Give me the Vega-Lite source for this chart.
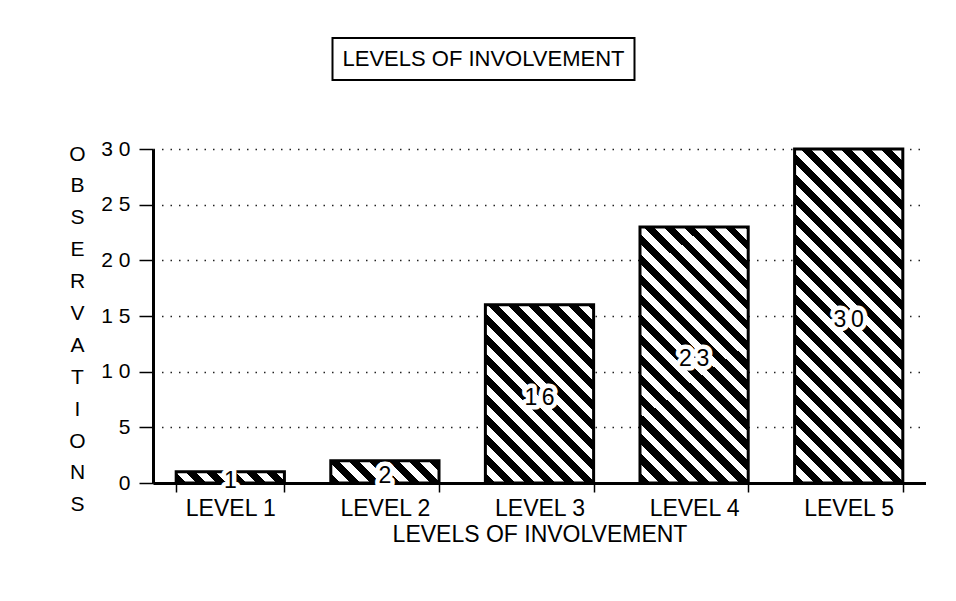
{
  "$schema": "https://vega.github.io/schema/vega-lite/v6.json",
  "padding": {"left": 68, "top": 37, "right": 0, "bottom": 0},
  "autosize": {"type": "pad"},
  "background": "white",
  "center": true,
  "spacing": 57,
  "config": {
    "font": "Liberation Sans",
    "view": {"stroke": null},
    "axis": {
      "labelFont": "Liberation Sans",
      "titleFont": "Liberation Sans",
      "labelColor": "black",
      "titleColor": "black",
      "domainColor": "black",
      "tickColor": "black",
      "titleFontWeight": "normal"
    }
  },
  "datasets": {
    "obs": [
      {"level": "LEVEL 1", "value": 1},
      {"level": "LEVEL 2", "value": 2},
      {"level": "LEVEL 3", "value": 16},
      {"level": "LEVEL 4", "value": 23},
      {"level": "LEVEL 5", "value": 30}
    ]
  },
  "vconcat": [
    {
      "hconcat": [
        {
          "width": 302,
          "height": 42,
          "view": {"stroke": "black", "strokeWidth": 2},
          "data": {"values": [{"t": "LEVELS OF INVOLVEMENT"}]},
          "mark": {"type": "text", "fontSize": 22, "font": "Liberation Sans", "color": "black", "baseline": "middle", "align": "center"},
          "encoding": {"text": {"field": "t"}}
        },
        {
          "width": 111,
          "height": 42,
          "view": {"stroke": null},
          "data": {"values": [{"t": ""}]},
          "mark": {"type": "text"},
          "encoding": {"text": {"field": "t"}}
        }
      ],
      "spacing": 0
    },
    {
      "width": 773,
      "height": 334,
      "data": {"name": "obs"},
      "resolve": {"scale": {"y": "independent"}},
      "layer": [
        {
          "mark": {"type": "bar", "stroke": "black", "strokeWidth": 3},
          "encoding": {
            "x": {
              "field": "level", "type": "nominal", "sort": null,
              "scale": {"paddingInner": 0.3, "paddingOuter": 0.15},
              "axis": {
                "title": "LEVELS OF INVOLVEMENT",
                "titleFontSize": 23,
                "titlePadding": 3,
                "labelFontSize": 23,
                "labelAngle": 0,
                "labelPadding": 5,
                "tickBand": "extent",
                "tickSize": 9,
                "tickWidth": 1.5,
                "domainWidth": 3,
                "grid": false
              }
            },
            "y": {
              "field": "value", "type": "quantitative",
              "scale": {"domain": [0, 30]},
              "axis": {
                "values": [0, 5, 10, 15, 20, 25, 30],
                "labelExpr": "join(split(datum.label, ''), ' ')",
                "labelFontSize": 21,
                "labelPadding": 9,
                "tickSize": 14,
                "tickWidth": 1.5,
                "domainWidth": 3,
                "grid": true,
                "gridDash": [1.5, 7],
                "gridColor": "#222",
                "gridWidth": 1.4,
                "title": ["O", "B", "S", "E", "R", "V", "A", "T", "I", "O", "N", "S"],
                "titleFontSize": 21,
                "titleAngle": 0,
                "titleAlign": "center",
                "titleBaseline": "alphabetic",
                "titleLineHeight": 31.9,
                "titleX": -76,
                "titleY": 11
              }
            },
            "fill": {
              "condition": [
                {"test": "datum.level === 'LEVEL 1'", "value": {"gradient": "linear", "x1": 0, "y1": 1, "x2": 1.0913, "y2": 0.8877, "stops": [
                  {"offset": 0, "color": "#000"}, {"offset": 0.0838, "color": "#000"}, {"offset": 0.0838, "color": "#fff"}, {"offset": 0.1676, "color": "#fff"},
                  {"offset": 0.1676, "color": "#000"}, {"offset": 0.2514, "color": "#000"}, {"offset": 0.2514, "color": "#fff"}, {"offset": 0.3352, "color": "#fff"},
                  {"offset": 0.3352, "color": "#000"}, {"offset": 0.419, "color": "#000"}, {"offset": 0.419, "color": "#fff"}, {"offset": 0.5028, "color": "#fff"},
                  {"offset": 0.5028, "color": "#000"}, {"offset": 0.5866, "color": "#000"}, {"offset": 0.5866, "color": "#fff"}, {"offset": 0.6704, "color": "#fff"},
                  {"offset": 0.6704, "color": "#000"}, {"offset": 0.7542, "color": "#000"}, {"offset": 0.7542, "color": "#fff"}, {"offset": 0.838, "color": "#fff"},
                  {"offset": 0.838, "color": "#000"}, {"offset": 0.9218, "color": "#000"}, {"offset": 0.9218, "color": "#fff"}, {"offset": 1, "color": "#fff"}
                ]}},
                {"test": "datum.level === 'LEVEL 2'", "value": {"gradient": "linear", "x1": 0, "y1": 1, "x2": 1.1568, "y2": 0.7619, "stops": [
                  {"offset": 0, "color": "#000"}, {"offset": 0.0766, "color": "#000"}, {"offset": 0.0766, "color": "#fff"}, {"offset": 0.1533, "color": "#fff"},
                  {"offset": 0.1533, "color": "#000"}, {"offset": 0.2299, "color": "#000"}, {"offset": 0.2299, "color": "#fff"}, {"offset": 0.3066, "color": "#fff"},
                  {"offset": 0.3066, "color": "#000"}, {"offset": 0.3832, "color": "#000"}, {"offset": 0.3832, "color": "#fff"}, {"offset": 0.4599, "color": "#fff"},
                  {"offset": 0.4599, "color": "#000"}, {"offset": 0.5365, "color": "#000"}, {"offset": 0.5365, "color": "#fff"}, {"offset": 0.6132, "color": "#fff"},
                  {"offset": 0.6132, "color": "#000"}, {"offset": 0.6898, "color": "#000"}, {"offset": 0.6898, "color": "#fff"}, {"offset": 0.7665, "color": "#fff"},
                  {"offset": 0.7665, "color": "#000"}, {"offset": 0.8431, "color": "#000"}, {"offset": 0.8431, "color": "#fff"}, {"offset": 0.9197, "color": "#fff"},
                  {"offset": 0.9197, "color": "#000"}, {"offset": 0.9964, "color": "#000"}, {"offset": 0.9964, "color": "#fff"}, {"offset": 1, "color": "#fff"}
                ]}},
                {"test": "datum.level === 'LEVEL 3'", "value": {"gradient": "linear", "x1": 0, "y1": 1, "x2": 0.7132, "y2": -0.1742, "stops": [
                  {"offset": 0, "color": "#000"}, {"offset": 0.0349, "color": "#000"}, {"offset": 0.0349, "color": "#fff"}, {"offset": 0.0699, "color": "#fff"},
                  {"offset": 0.0699, "color": "#000"}, {"offset": 0.1048, "color": "#000"}, {"offset": 0.1048, "color": "#fff"}, {"offset": 0.1397, "color": "#fff"},
                  {"offset": 0.1397, "color": "#000"}, {"offset": 0.1746, "color": "#000"}, {"offset": 0.1746, "color": "#fff"}, {"offset": 0.2096, "color": "#fff"},
                  {"offset": 0.2096, "color": "#000"}, {"offset": 0.2445, "color": "#000"}, {"offset": 0.2445, "color": "#fff"}, {"offset": 0.2794, "color": "#fff"},
                  {"offset": 0.2794, "color": "#000"}, {"offset": 0.3143, "color": "#000"}, {"offset": 0.3143, "color": "#fff"}, {"offset": 0.3493, "color": "#fff"},
                  {"offset": 0.3493, "color": "#000"}, {"offset": 0.3842, "color": "#000"}, {"offset": 0.3842, "color": "#fff"}, {"offset": 0.4191, "color": "#fff"},
                  {"offset": 0.4191, "color": "#000"}, {"offset": 0.454, "color": "#000"}, {"offset": 0.454, "color": "#fff"}, {"offset": 0.489, "color": "#fff"},
                  {"offset": 0.489, "color": "#000"}, {"offset": 0.5239, "color": "#000"}, {"offset": 0.5239, "color": "#fff"}, {"offset": 0.5588, "color": "#fff"},
                  {"offset": 0.5588, "color": "#000"}, {"offset": 0.5937, "color": "#000"}, {"offset": 0.5937, "color": "#fff"}, {"offset": 0.6287, "color": "#fff"},
                  {"offset": 0.6287, "color": "#000"}, {"offset": 0.6636, "color": "#000"}, {"offset": 0.6636, "color": "#fff"}, {"offset": 0.6985, "color": "#fff"},
                  {"offset": 0.6985, "color": "#000"}, {"offset": 0.7334, "color": "#000"}, {"offset": 0.7334, "color": "#fff"}, {"offset": 0.7684, "color": "#fff"},
                  {"offset": 0.7684, "color": "#000"}, {"offset": 0.8033, "color": "#000"}, {"offset": 0.8033, "color": "#fff"}, {"offset": 0.8382, "color": "#fff"},
                  {"offset": 0.8382, "color": "#000"}, {"offset": 0.8731, "color": "#000"}, {"offset": 0.8731, "color": "#fff"}, {"offset": 0.9081, "color": "#fff"},
                  {"offset": 0.9081, "color": "#000"}, {"offset": 0.943, "color": "#000"}, {"offset": 0.943, "color": "#fff"}, {"offset": 0.9779, "color": "#fff"},
                  {"offset": 0.9779, "color": "#000"}, {"offset": 1, "color": "#000"}
                ]}},
                {"test": "datum.level === 'LEVEL 4'", "value": {"gradient": "linear", "x1": 0, "y1": 1, "x2": 0.51, "y2": -0.207, "stops": [
                  {"offset": 0, "color": "#000"}, {"offset": 0.0275, "color": "#000"}, {"offset": 0.0275, "color": "#fff"}, {"offset": 0.0549, "color": "#fff"},
                  {"offset": 0.0549, "color": "#000"}, {"offset": 0.0824, "color": "#000"}, {"offset": 0.0824, "color": "#fff"}, {"offset": 0.1098, "color": "#fff"},
                  {"offset": 0.1098, "color": "#000"}, {"offset": 0.1373, "color": "#000"}, {"offset": 0.1373, "color": "#fff"}, {"offset": 0.1647, "color": "#fff"},
                  {"offset": 0.1647, "color": "#000"}, {"offset": 0.1922, "color": "#000"}, {"offset": 0.1922, "color": "#fff"}, {"offset": 0.2196, "color": "#fff"},
                  {"offset": 0.2196, "color": "#000"}, {"offset": 0.2471, "color": "#000"}, {"offset": 0.2471, "color": "#fff"}, {"offset": 0.2745, "color": "#fff"},
                  {"offset": 0.2745, "color": "#000"}, {"offset": 0.302, "color": "#000"}, {"offset": 0.302, "color": "#fff"}, {"offset": 0.3294, "color": "#fff"},
                  {"offset": 0.3294, "color": "#000"}, {"offset": 0.3569, "color": "#000"}, {"offset": 0.3569, "color": "#fff"}, {"offset": 0.3843, "color": "#fff"},
                  {"offset": 0.3843, "color": "#000"}, {"offset": 0.4118, "color": "#000"}, {"offset": 0.4118, "color": "#fff"}, {"offset": 0.4392, "color": "#fff"},
                  {"offset": 0.4392, "color": "#000"}, {"offset": 0.4667, "color": "#000"}, {"offset": 0.4667, "color": "#fff"}, {"offset": 0.4941, "color": "#fff"},
                  {"offset": 0.4941, "color": "#000"}, {"offset": 0.5216, "color": "#000"}, {"offset": 0.5216, "color": "#fff"}, {"offset": 0.549, "color": "#fff"},
                  {"offset": 0.549, "color": "#000"}, {"offset": 0.5765, "color": "#000"}, {"offset": 0.5765, "color": "#fff"}, {"offset": 0.6039, "color": "#fff"},
                  {"offset": 0.6039, "color": "#000"}, {"offset": 0.6314, "color": "#000"}, {"offset": 0.6314, "color": "#fff"}, {"offset": 0.6588, "color": "#fff"},
                  {"offset": 0.6588, "color": "#000"}, {"offset": 0.6863, "color": "#000"}, {"offset": 0.6863, "color": "#fff"}, {"offset": 0.7138, "color": "#fff"},
                  {"offset": 0.7138, "color": "#000"}, {"offset": 0.7412, "color": "#000"}, {"offset": 0.7412, "color": "#fff"}, {"offset": 0.7687, "color": "#fff"},
                  {"offset": 0.7687, "color": "#000"}, {"offset": 0.7961, "color": "#000"}, {"offset": 0.7961, "color": "#fff"}, {"offset": 0.8236, "color": "#fff"},
                  {"offset": 0.8236, "color": "#000"}, {"offset": 0.851, "color": "#000"}, {"offset": 0.851, "color": "#fff"}, {"offset": 0.8785, "color": "#fff"},
                  {"offset": 0.8785, "color": "#000"}, {"offset": 0.9059, "color": "#000"}, {"offset": 0.9059, "color": "#fff"}, {"offset": 0.9334, "color": "#fff"},
                  {"offset": 0.9334, "color": "#000"}, {"offset": 0.9608, "color": "#000"}, {"offset": 0.9608, "color": "#fff"}, {"offset": 0.9883, "color": "#fff"},
                  {"offset": 0.9883, "color": "#000"}, {"offset": 1, "color": "#000"}
                ]}}
              ],
              "value": {"gradient": "linear", "x1": 0, "y1": 1, "x2": 0.3882, "y2": -0.1982, "stops": [
                {"offset": 0, "color": "#000"}, {"offset": 0.0226, "color": "#000"}, {"offset": 0.0226, "color": "#fff"}, {"offset": 0.0452, "color": "#fff"},
                {"offset": 0.0452, "color": "#000"}, {"offset": 0.0678, "color": "#000"}, {"offset": 0.0678, "color": "#fff"}, {"offset": 0.0905, "color": "#fff"},
                {"offset": 0.0905, "color": "#000"}, {"offset": 0.1131, "color": "#000"}, {"offset": 0.1131, "color": "#fff"}, {"offset": 0.1357, "color": "#fff"},
                {"offset": 0.1357, "color": "#000"}, {"offset": 0.1583, "color": "#000"}, {"offset": 0.1583, "color": "#fff"}, {"offset": 0.1809, "color": "#fff"},
                {"offset": 0.1809, "color": "#000"}, {"offset": 0.2035, "color": "#000"}, {"offset": 0.2035, "color": "#fff"}, {"offset": 0.2261, "color": "#fff"},
                {"offset": 0.2261, "color": "#000"}, {"offset": 0.2488, "color": "#000"}, {"offset": 0.2488, "color": "#fff"}, {"offset": 0.2714, "color": "#fff"},
                {"offset": 0.2714, "color": "#000"}, {"offset": 0.294, "color": "#000"}, {"offset": 0.294, "color": "#fff"}, {"offset": 0.3166, "color": "#fff"},
                {"offset": 0.3166, "color": "#000"}, {"offset": 0.3392, "color": "#000"}, {"offset": 0.3392, "color": "#fff"}, {"offset": 0.3618, "color": "#fff"},
                {"offset": 0.3618, "color": "#000"}, {"offset": 0.3844, "color": "#000"}, {"offset": 0.3844, "color": "#fff"}, {"offset": 0.4071, "color": "#fff"},
                {"offset": 0.4071, "color": "#000"}, {"offset": 0.4297, "color": "#000"}, {"offset": 0.4297, "color": "#fff"}, {"offset": 0.4523, "color": "#fff"},
                {"offset": 0.4523, "color": "#000"}, {"offset": 0.4749, "color": "#000"}, {"offset": 0.4749, "color": "#fff"}, {"offset": 0.4975, "color": "#fff"},
                {"offset": 0.4975, "color": "#000"}, {"offset": 0.5201, "color": "#000"}, {"offset": 0.5201, "color": "#fff"}, {"offset": 0.5427, "color": "#fff"},
                {"offset": 0.5427, "color": "#000"}, {"offset": 0.5654, "color": "#000"}, {"offset": 0.5654, "color": "#fff"}, {"offset": 0.588, "color": "#fff"},
                {"offset": 0.588, "color": "#000"}, {"offset": 0.6106, "color": "#000"}, {"offset": 0.6106, "color": "#fff"}, {"offset": 0.6332, "color": "#fff"},
                {"offset": 0.6332, "color": "#000"}, {"offset": 0.6558, "color": "#000"}, {"offset": 0.6558, "color": "#fff"}, {"offset": 0.6784, "color": "#fff"},
                {"offset": 0.6784, "color": "#000"}, {"offset": 0.701, "color": "#000"}, {"offset": 0.701, "color": "#fff"}, {"offset": 0.7236, "color": "#fff"},
                {"offset": 0.7236, "color": "#000"}, {"offset": 0.7463, "color": "#000"}, {"offset": 0.7463, "color": "#fff"}, {"offset": 0.7689, "color": "#fff"},
                {"offset": 0.7689, "color": "#000"}, {"offset": 0.7915, "color": "#000"}, {"offset": 0.7915, "color": "#fff"}, {"offset": 0.8141, "color": "#fff"},
                {"offset": 0.8141, "color": "#000"}, {"offset": 0.8367, "color": "#000"}, {"offset": 0.8367, "color": "#fff"}, {"offset": 0.8593, "color": "#fff"},
                {"offset": 0.8593, "color": "#000"}, {"offset": 0.8819, "color": "#000"}, {"offset": 0.8819, "color": "#fff"}, {"offset": 0.9046, "color": "#fff"},
                {"offset": 0.9046, "color": "#000"}, {"offset": 0.9272, "color": "#000"}, {"offset": 0.9272, "color": "#fff"}, {"offset": 0.9498, "color": "#fff"},
                {"offset": 0.9498, "color": "#000"}, {"offset": 0.9724, "color": "#000"}, {"offset": 0.9724, "color": "#fff"}, {"offset": 0.995, "color": "#fff"},
                {"offset": 0.995, "color": "#000"}, {"offset": 1, "color": "#000"}
              ]}
            }
          }
        },
        {
          "mark": {"type": "text", "fontSize": 23, "font": "Liberation Sans", "baseline": "middle", "align": "center", "dy": 4, "fill": "white", "stroke": "white", "strokeWidth": 9, "strokeJoin": "round", "text": {"expr": "join(split(toString(datum.value), ''), '\u2009')"}},
          "encoding": {
            "x": {"field": "level", "type": "nominal", "sort": null},
            "y": {"field": "value", "type": "quantitative", "scale": {"domain": [0, 60]}, "axis": null}
          }
        },
        {
          "mark": {"type": "text", "fontSize": 23, "font": "Liberation Sans", "baseline": "middle", "align": "center", "dy": 4, "fill": "black", "text": {"expr": "join(split(toString(datum.value), ''), '\u2009')"}},
          "encoding": {
            "x": {"field": "level", "type": "nominal", "sort": null},
            "y": {"field": "value", "type": "quantitative", "scale": {"domain": [0, 60]}, "axis": null}
          }
        }
      ]
    }
  ]
}
